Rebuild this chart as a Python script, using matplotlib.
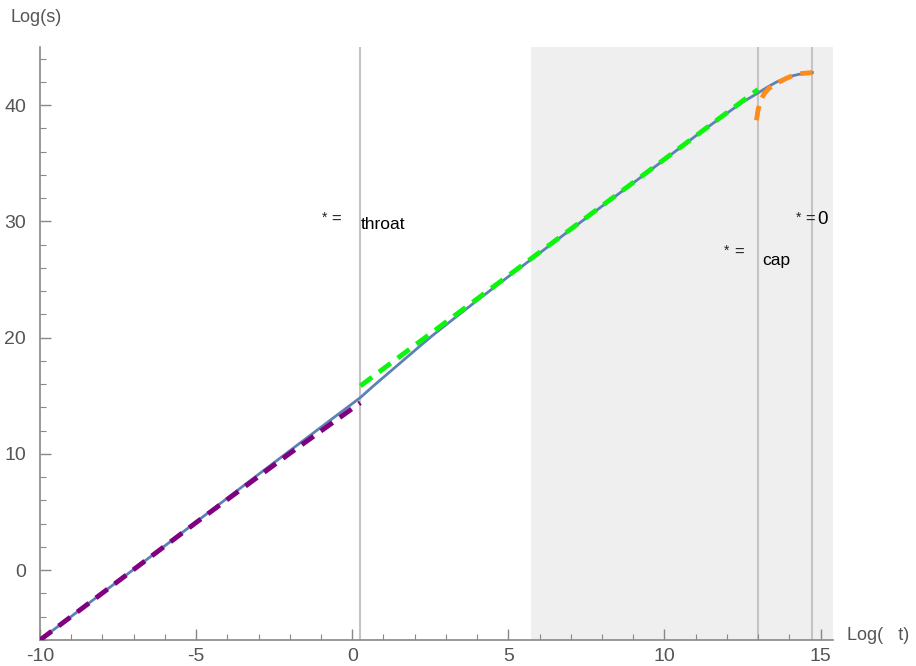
import matplotlib.pyplot as plt
import numpy as np

plt.rcParams['font.family'] = ['Liberation Sans', 'DejaVu Sans']

# curve samples (log tau, log s)
blue_x = [-10, -6, -3.27, -1, 0.26, 0.7, 1.2, 1.7, 2.2, 2.6, 3.0, 3.5, 4.0, 5.0, 7.0, 9.87, 11.0, 12.0, 12.5, 13.0, 13.3, 13.6, 14.0, 14.3, 14.74]
blue_y = [-6, 2.1, 7.7, 12.3, 14.85, 15.9, 17.05, 18.2, 19.35, 20.25, 21.1, 22.15, 23.2, 25.25, 29.3, 35.05, 37.35, 39.3, 40.25, 41.05, 41.55, 42.0, 42.45, 42.65, 42.8]

purple_x = [-10, -5, -2, 0.26]
purple_y = [-6, 4.1, 10.05, 14.4]

green_x = [0.26, 13.0]
green_y = [15.85, 41.35]

orange_x = [12.95, 13.0, 13.08, 13.2, 13.33, 13.5, 13.72, 13.9, 14.13, 14.4, 14.74]
orange_y = [38.7, 39.6, 40.4, 41.0, 41.4, 41.75, 42.05, 42.3, 42.56, 42.72, 42.8]

cap_band = (5.72, 15.4)
v_lines = [0.26, 13.0, 14.74]

fig = plt.figure(figsize=(9.16, 6.66), dpi=100)
ax = fig.add_axes([40/916, 1-640/666, (833-40)/916, (640-47)/666])

ax.axvspan(cap_band[0], cap_band[1], color='#efefef', zorder=0, lw=0)
for xv in v_lines:
    ax.axvline(xv, color='#c4c4c4', lw=1.5, zorder=1)

ax.plot(blue_x, blue_y, color='#5E81B5', lw=2, zorder=2)
ax.plot(purple_x, purple_y, color='#800080', lw=3.5, dashes=(3, 1.8), zorder=3)
ax.plot(green_x, green_y, color='#0cf50c', lw=3.5, dashes=(3, 1.8), zorder=3)
ax.plot(orange_x, orange_y, color='#ff8c1a', lw=3.5, dashes=(3, 1.8), zorder=3)

# labels (original glyphs missing in the reference)
def star_eq(x, y):
    ax.text(x - 0.3, y + 0.15, '*', fontsize=10, ha='center', va='center', color='#222222')
    ax.text(x + 0.08, y, '=', fontsize=12, ha='center', va='center', color='#222222')

star_eq(-0.6, 30.2)
ax.text(0.28, 29.7, 'throat', fontsize=12.5, ha='left', va='center', color='black')
star_eq(12.3, 27.3)
ax.text(13.12, 26.6, 'cap', fontsize=12.5, ha='left', va='center', color='black')
star_eq(14.6, 30.2)
ax.text(14.9, 30.2, '0', fontsize=13.5, ha='left', va='center', color='black')

ax.set_xlim(-10, 15.4)
ax.set_ylim(-6, 45)
ax.set_xticks([-10, -5, 0, 5, 10, 15])
ax.set_xticks(np.arange(-10, 15.5, 1), minor=True)
ax.set_yticks([0, 10, 20, 30, 40])
ax.set_yticks(np.arange(-6, 45, 2), minor=True)
ax.set_xticklabels(['-10', '-5', '0', '5', '10', '15'])

for s in ['top', 'right']:
    ax.spines[s].set_visible(False)
for s in ['left', 'bottom']:
    ax.spines[s].set_color('#888888')
    ax.spines[s].set_linewidth(1.2)

ax.tick_params(axis='both', which='major', direction='in', length=8, width=1,
               color='#888888', labelsize=14, labelcolor='#555555')
ax.tick_params(axis='both', which='minor', direction='in', length=4.5, width=0.8,
               color='#888888')
ax.tick_params(axis='y', pad=10)
ax.tick_params(axis='x', pad=6)

fig.text(10/916, 1-18/666, 'Log(s)', fontsize=13, color='#555555', va='center', ha='left')
fig.text(847/916, 1-636/666, 'Log(   t)', fontsize=13, color='#555555', va='center', ha='left')

fig.savefig('out.png', dpi=100)
